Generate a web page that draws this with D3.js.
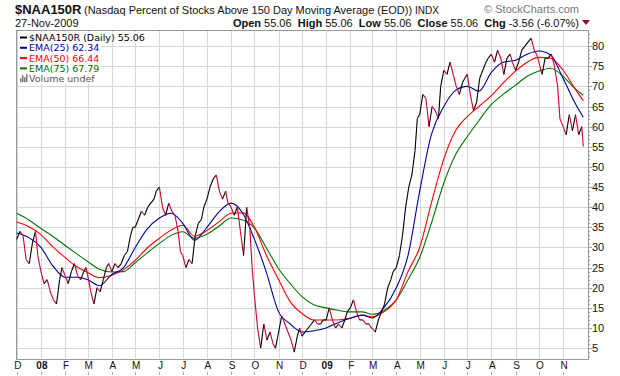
<!DOCTYPE html>
<html lang="en">
<head>
<meta charset="UTF-8">
<title>$NAA150R</title>
<script src="https://d3js.org/d3.v7.min.js"></script>
<style>
  body { margin: 0; background: #fff; }
  svg { font-family: Arial, "Liberation Sans", sans-serif; }
  .legend text { font-family: "DejaVu Sans", Verdana, sans-serif; font-size: 9.5px; }
</style>
</head>
<body>
<div id="chart"></div>
<script>
// month labels on the x axis, Dec 2007 .. Nov 2009
var monthLabels = ["D","08","F","M","A","M","J","J","A","S","O","N",
                   "D","09","F","M","A","M","J","J","A","S","O","N"];
var yTicks = [5,10,15,20,25,30,35,40,45,50,55,60,65,70,75,80];

// closing values, sampled on these days of each month
var sampleDays = [1, 5, 9, 13, 17, 21, 25, 28];
var price = [
  [32, 34, 33, 27, 26, 31, 34, 28],   // Dec 07
  [24, 21, 22, 19, 17, 16, 22, 25],   // Jan 08
  [23, 21, 24, 26, 23, 22, 24, 25],
  [23, 19, 16, 20, 19, 22, 25, 26],
  [24, 26, 25, 26, 28, 29, 33, 35],
  [35, 37, 39, 38, 40, 41, 42, 44],
  [45, 40, 38, 41, 39, 38, 34, 29],
  [28, 25, 27, 26, 33, 36, 37, 40],
  [42, 45, 47, 48, 44, 42, 44, 41],
  [40, 38, 40, 34, 28, 40, 35, 25],
  [18, 10, 5, 11, 7, 9, 6, 5],
  [9, 13, 11, 9, 7, 4, 8, 10],
  [8, 9, 10, 11, 12, 11, 11, 12],      // Dec 08
  [12, 15, 12, 10, 11, 10, 12, 14],    // Jan 09
  [15, 17, 14, 12, 12, 11, 11, 10],
  [10, 9, 12, 14, 16, 20, 22, 24],
  [25, 28, 33, 40, 45, 48, 54, 62],
  [63, 68, 67, 60, 65, 64, 62, 70],
  [74, 73, 76, 73, 70, 68, 71, 72],
  [73, 68, 64, 66, 72, 74, 76, 77],
  [78, 76, 79, 77, 73, 77, 78, 76],
  [74, 76, 79, 80, 81, 82, 79, 78],
  [76, 73, 77, 77, 78, 75, 70, 62],
  [60, 58, 63, 59, 63, 58, 60, 55.06]  // Nov 09
];
var lastDate = new Date(2009, 10, 27);

// moving averages, read on the 1st and 16th of each month + last day
var emaDays = [1, 16];
var ema25 = [33.6,32.5, 30,25.5, 22.6,22.6, 22,20.5, 23.3,25, 30,34.5, 37.3,38.5, 36,31.8,
             35,38.7, 41,38.5, 32,24, 14,11, 9,9.3, 10,11.3, 12.4,13.2, 12.5,15,
             20,28, 44,58, 65,69, 70,68.8, 73.5,76, 76.5,78, 78.8,77.8, 72,66, 62.34];
var ema50 = [36.3,35.2, 33.2,30.2, 27.5,25.2, 23.8,22.5, 23.1,24.5, 26.8,29.8, 32.3,34.3, 35.5,32.8,
             34.2,36.3, 38.5,38.6, 35,28.2, 22,16.5, 13.6,12, 12,12, 12.5,13.2, 12.8,14,
             17,24, 30,41, 52,59, 62.5,65, 67.7,70.8, 73.8,76, 77.2,77, 74,69.5, 66.44];
var ema75 = [38.5,36.9, 34.7,32.8, 30.5,28.4, 26.5,24.6, 23.9,24, 26.2,28.6, 31,33, 33.9,32.3,
             33.3,35.2, 37.3,36.8, 34.8,30, 24.7,21, 17.8,15.8, 15,14.4, 14,14, 13.4,14.3,
             17,22, 27.5,36, 46,53, 57.5,61.5, 65.5,68, 70.3,72.5, 73.8,74.5, 72.5,69.5, 67.79];

var W = 620, H = 376;
var plot = { left: 16, right: 588, top: 30, bottom: 359 };

var priceData = [];
price.forEach(function (row, m) {
  row.forEach(function (v, i) {
    priceData.push({ date: new Date(2007, 11 + m, sampleDays[i]), value: v });
  });
});
priceData[priceData.length - 1].date = lastDate;

function emaSeries(vals) {
  var out = [];
  for (var m = 0; m < 24; m++) {
    emaDays.forEach(function (d, i) {
      out.push({ date: new Date(2007, 11 + m, d), value: vals[m * 2 + i] });
    });
  }
  out.push({ date: lastDate, value: vals[vals.length - 1] });
  return out;
}

var x = d3.scaleTime()
  .domain([new Date(2007, 10, 30), new Date(2009, 11, 3)])
  .range([plot.left, plot.right]);
var y = d3.scaleLinear()
  .domain([2.3, 84])
  .range([plot.bottom, plot.top]);

var svg = d3.select("#chart").append("svg")
  .attr("width", W).attr("height", H);
svg.append("rect").attr("width", W).attr("height", H).attr("fill", "#fff");

var monthStarts = monthLabels.map(function (_, m) { return new Date(2007, 11 + m, 1); });

// grid
var grid = svg.append("g").attr("stroke", "#d6d6d6").attr("stroke-width", 1);
yTicks.forEach(function (t) {
  grid.append("line")
    .attr("x1", plot.left).attr("x2", plot.right)
    .attr("y1", Math.round(y(t)) + 0.5).attr("y2", Math.round(y(t)) + 0.5);
});
monthStarts.forEach(function (d) {
  grid.append("line")
    .attr("x1", Math.round(x(d)) + 0.5).attr("x2", Math.round(x(d)) + 0.5)
    .attr("y1", plot.top).attr("y2", plot.bottom);
});

// frame
svg.append("rect")
  .attr("x", plot.left + 0.5).attr("y", plot.top + 0.5)
  .attr("width", plot.right - plot.left).attr("height", plot.bottom - plot.top)
  .attr("fill", "none").attr("stroke", "#999");

// y axis on the right with minor ticks
var yAxis = svg.append("g");
d3.range(3, 84).forEach(function (v) {
  var major = v % 5 === 0;
  yAxis.append("line")
    .attr("x1", plot.right).attr("x2", plot.right + (major ? 4 : 2))
    .attr("y1", Math.round(y(v)) + 0.5).attr("y2", Math.round(y(v)) + 0.5)
    .attr("stroke", "#999");
});
yTicks.forEach(function (t) {
  yAxis.append("text")
    .attr("x", plot.right + 4).attr("y", y(t) + 4)
    .attr("font-size", 11).attr("fill", "#111")
    .text(t);
});

// x axis labels
var xAxis = svg.append("g");
monthStarts.forEach(function (d, i) {
  var lab = monthLabels[i];
  var isYear = /\d/.test(lab);
  xAxis.append("text")
    .attr("x", x(d) + 1).attr("y", 369)
    .attr("text-anchor", "middle")
    .attr("font-size", 10)
    .attr("font-weight", isYear ? "bold" : "normal")
    .attr("fill", "#111")
    .text(lab);
  xAxis.append("line")
    .attr("x1", Math.round(x(d)) + 0.5).attr("x2", Math.round(x(d)) + 0.5)
    .attr("y1", 372).attr("y2", 375)
    .attr("stroke", "#aaa");
});

// lines
svg.append("clipPath").attr("id", "clip").append("rect")
  .attr("x", plot.left).attr("y", plot.top)
  .attr("width", plot.right - plot.left).attr("height", plot.bottom - plot.top);
var body = svg.append("g").attr("clip-path", "url(#clip)");

var emaLine = d3.line()
  .x(function (d) { return x(d.date); })
  .y(function (d) { return y(d.value); })
  .curve(d3.curveMonotoneX);

[[ema75, "#007300"], [ema50, "#ff0000"], [ema25, "#000099"]].forEach(function (s) {
  body.append("path")
    .datum(emaSeries(s[0]))
    .attr("fill", "none")
    .attr("stroke", s[1])
    .attr("stroke-width", 1.1)
    .attr("d", emaLine);
});

// price: black on up moves, crimson on down moves
for (var i = 1; i < priceData.length; i++) {
  var a = priceData[i - 1], b = priceData[i];
  body.append("line")
    .attr("x1", x(a.date)).attr("y1", y(a.value))
    .attr("x2", x(b.date)).attr("y2", y(b.value))
    .attr("stroke", b.value >= a.value ? "#000" : "#cc0033")
    .attr("stroke-width", 1.1);
}

// legend
var legendItems = [
  { label: "$NAA150R (Daily) 55.06", color: "#000", text: "#000" },
  { label: "EMA(25) 62.34", color: "#000099", text: "#000099" },
  { label: "EMA(50) 66.44", color: "#ff0000", text: "#ff0000" },
  { label: "EMA(75) 67.79", color: "#007300", text: "#006600" },
  { label: "Volume undef", color: null, text: "#555" }
];
var legend = svg.append("g").attr("class", "legend");
legendItems.forEach(function (it, i) {
  var by = 41 + i * 10.3;
  var g = legend.append("g");
  var bg = g.append("rect").attr("fill", "#fff");
  var t = g.append("text")
    .attr("x", 29).attr("y", by)
    .attr("fill", it.text)
    .text(it.label);
  var bb = t.node().getBBox();
  bg.attr("x", 18).attr("y", by - 8.5).attr("width", bb.x + bb.width - 17).attr("height", 10);
  if (it.color) {
    g.append("line")
      .attr("x1", 20).attr("x2", 27).attr("y1", by - 3.5).attr("y2", by - 3.5)
      .attr("stroke", it.color).attr("stroke-width", 2);
  } else {
    [[20, 4], [22, 7], [24, 5], [26, 8]].forEach(function (bar) {
      g.append("rect").attr("x", bar[0]).attr("y", by - bar[1])
        .attr("width", 1.5).attr("height", bar[1]).attr("fill", "#777");
    });
  }
});

// header
var head = svg.append("g").attr("fill", "#111");
head.append("text").attr("x", 15).attr("y", 14)
  .attr("font-size", 13).attr("font-weight", "bold").text("$NAA150R");
head.append("text").attr("x", 84).attr("y", 14)
  .attr("font-size", 11)
  .text("(Nasdaq Percent of Stocks Above 150 Day Moving Average (EOD))");
head.append("text").attr("x", 415).attr("y", 14)
  .attr("font-size", 10).text("INDX");
head.append("text").attr("x", 579).attr("y", 13)
  .attr("font-size", 11).attr("fill", "#777").attr("text-anchor", "end")
  .text("\u00A9 StockCharts.com");
head.append("text").attr("x", 15).attr("y", 27)
  .attr("font-size", 11).text("27-Nov-2009");

var ohlc = head.append("text").attr("x", 579).attr("y", 27)
  .attr("font-size", 11).attr("text-anchor", "end");
[["Open", " 55.06  "], ["High", " 55.06  "], ["Low", " 55.06  "],
 ["Close", " 55.06  "], ["Chg", " -3.56 (-6.07%)"]].forEach(function (p) {
  ohlc.append("tspan").attr("font-weight", "bold").text(p[0]);
  ohlc.append("tspan").attr("xml:space", "preserve").text(p[1]);
});
ohlc.attr("xml:space", "preserve");
svg.append("path")
  .attr("d", "M582,20 L590,20 L586,25 Z")
  .attr("fill", "#990033");
</script>
</body>
</html>
